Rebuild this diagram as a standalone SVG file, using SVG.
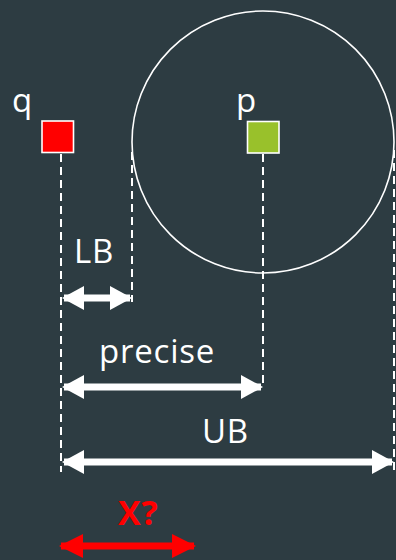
<svg xmlns="http://www.w3.org/2000/svg" width="396" height="560" viewBox="0 0 396 560">
  <defs>
    <style>
      .label { font-family: "Open Sans", "Noto Sans", sans-serif; font-size: 33px; letter-spacing: 0.8px; fill: #ffffff; }
      .guide { stroke: #ffffff; stroke-width: 2; stroke-dasharray: 8 5; fill: none; }
      .dim { stroke: #ffffff; stroke-width: 7; fill: none; }
      .dim-red { stroke: #ff0000; stroke-width: 7; fill: none; }
    </style>
    <marker id="head" viewBox="0 0 22 24" refX="20" refY="12" markerWidth="22" markerHeight="24" markerUnits="userSpaceOnUse" orient="auto-start-reverse">
      <path d="M0 0 L22 12 L0 24 Z" fill="#ffffff"/>
    </marker>
    <marker id="head-red" viewBox="0 0 24 24" refX="22" refY="12" markerWidth="24" markerHeight="24" markerUnits="userSpaceOnUse" orient="auto-start-reverse">
      <path d="M0 0 L24 12 L0 24 Z" fill="#ff0000"/>
    </marker>
  </defs>

  <rect width="396" height="560" fill="#2d3c42"/>

  <!-- search radius around p -->
  <circle id="range" cx="263" cy="142" r="131" fill="none" stroke="#ffffff" stroke-width="1.6"/>

  <g id="connectors">
    <line class="guide" x1="61" y1="154" x2="61" y2="472"/>
    <line class="guide" x1="132" y1="152" x2="132" y2="302"/>
    <line class="guide" x1="263" y1="154" x2="263" y2="388"/>
    <line class="guide" x1="394" y1="150" x2="394" y2="472"/>

    <line class="dim" x1="64" y1="298" x2="130" y2="298" marker-start="url(#head)" marker-end="url(#head)"/>
    <line class="dim" x1="64" y1="387" x2="261" y2="387" marker-start="url(#head)" marker-end="url(#head)"/>
    <line class="dim" x1="64" y1="462" x2="392" y2="462" marker-start="url(#head)" marker-end="url(#head)"/>
    <line class="dim-red" x1="61" y1="546" x2="194" y2="546" marker-start="url(#head-red)" marker-end="url(#head-red)"/>
  </g>

  <g id="q">
    <rect x="42" y="121" width="31.5" height="31.5" fill="#ff0000" stroke="#ffffff" stroke-width="1.6"/>
    <text class="label" x="12" y="112">q</text>
  </g>

  <g id="p">
    <rect x="247.5" y="121.5" width="31.5" height="31.5" fill="#99c12b" stroke="#ffffff" stroke-width="1.6"/>
    <text class="label" x="236" y="112">p</text>
  </g>

  <g id="lb-label"><text class="label" x="74" y="263">LB</text></g>
  <g id="precise-label"><text class="label" x="99" y="363">precise</text></g>
  <g id="ub-label"><text class="label" x="202" y="443">UB</text></g>
  <g id="x-label"><text class="label" x="118" y="525" style="fill:#ff0000;font-weight:bold;font-size:34px">X?</text></g>
</svg>
